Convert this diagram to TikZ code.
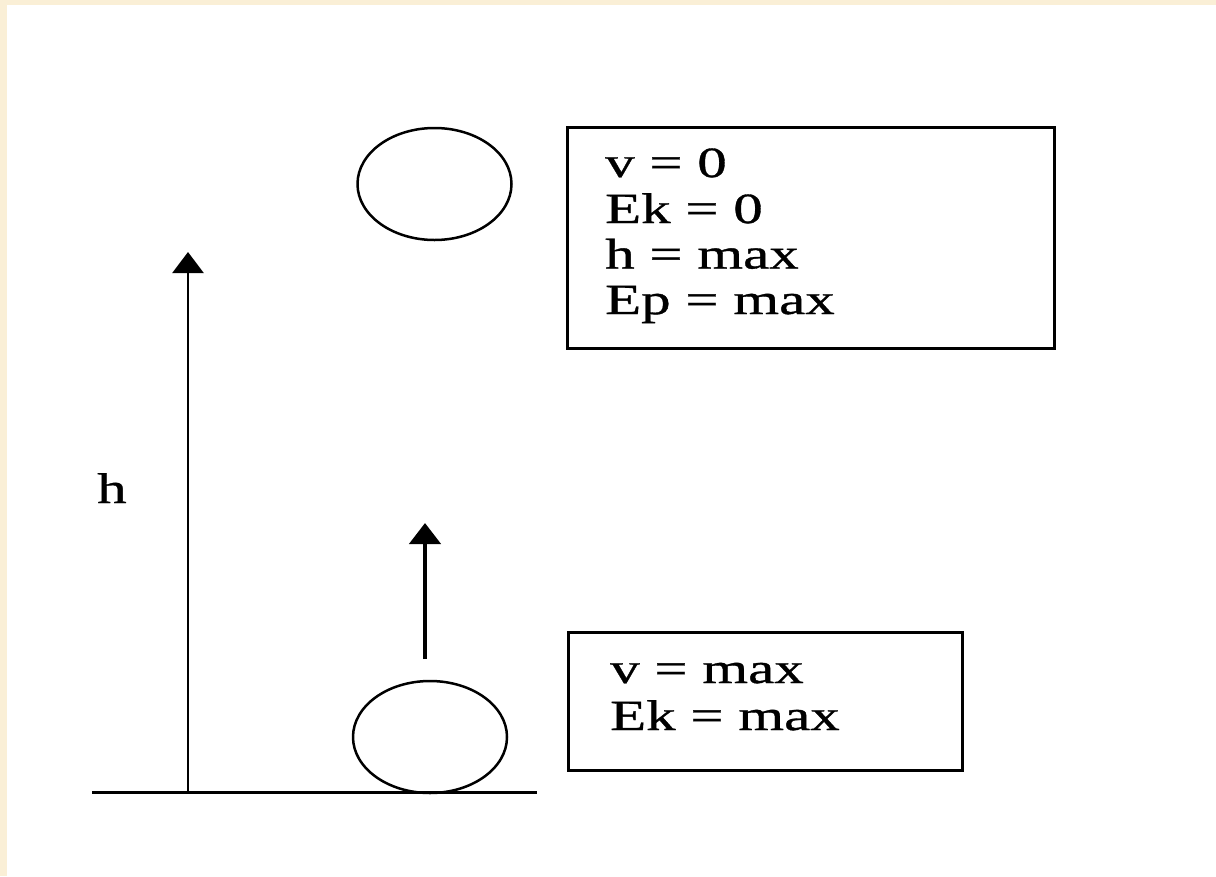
\documentclass[tikz,border=0pt]{standalone}
\usepackage{fontspec}
\setmainfont{Liberation Serif}[FakeStretch=1.37,FakeBold=0.8]
\usetikzlibrary{arrows.meta,shapes.geometric}
\definecolor{beige}{HTML}{FAEFD6}
\tikzset{
  ball/.style={ellipse, draw, line width=2.5pt, minimum width=154pt, minimum height=112pt, inner sep=0pt},
  infobox/.style={rectangle, draw, line width=3pt, inner sep=0pt},
  txt/.style={anchor=base west, inner sep=0pt, font=\fontsize{43}{45}\selectfont},
  uparrow/.style={-{Triangle[width=31pt,length=21pt]}},
}
\begin{document}
\begin{tikzpicture}[x=1pt,y=-1pt]
\useasboundingbox (0,0) rectangle (1216,876);
\fill[beige] (0,0) rectangle (1216,5);
\fill[beige] (0,0) rectangle (7,876);

% ground
\coordinate (g1) at (92,792);
\coordinate (g2) at (537,792);
\draw[line width=3pt] (g1) -- (g2);

% balls
\node[ball] (topball) at (434.5,184) {};
\node[ball] (botball) at (430,737) {};

% height arrow
\coordinate (hbase) at (188,792);
\coordinate (htip) at (188,252);
\draw[uparrow, line width=2.5pt] (hbase) -- (htip);
\node[txt] (hlabel) at (97,503) {h};

% velocity arrow
\coordinate (vbase) at (425,659);
\coordinate (vtip) at (425,523);
\draw[uparrow, line width=4.5pt] (vbase) -- (vtip);

% top info box
\node[infobox, minimum width=487pt, minimum height=221pt] (topbox) at (810.5,237.5) {};
\node[txt] (t1) at (605,177) {v = 0};
\node[txt] (t2) at (605,223) {Ek = 0};
\node[txt] (t3) at (605,268.5) {h = max};
\node[txt] (t4) at (605,314) {Ep = max};

% bottom info box
\node[infobox, minimum width=394pt, minimum height=138pt] (botbox) at (765,701) {};
\node[txt] (b1) at (610,683) {v = max};
\node[txt] (b2) at (610,730) {Ek = max};
\end{tikzpicture}
\end{document}
